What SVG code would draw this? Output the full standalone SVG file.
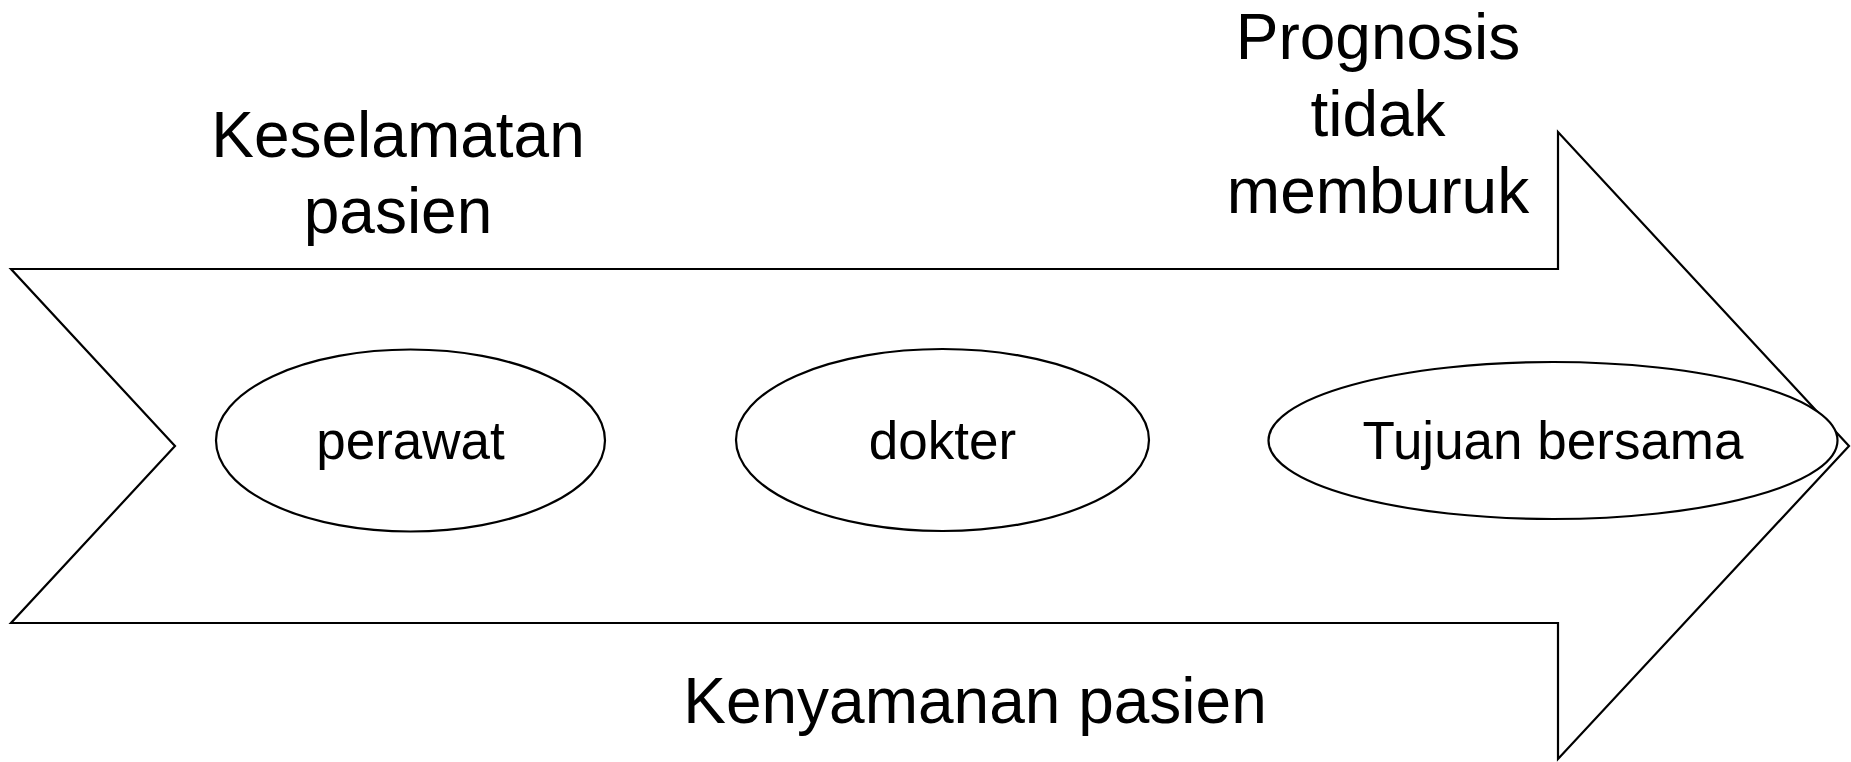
<svg xmlns="http://www.w3.org/2000/svg" width="1851" height="762" viewBox="0 0 1851 762">
<style>
.shape{fill:#fff;stroke:#000;stroke-width:2.2}
.lbl{font-family:"Liberation Sans",Arial,sans-serif;fill:#000;text-anchor:middle}
.big{font-size:64px}
.node{font-size:53px}
</style>
<rect width="1851" height="762" fill="#fff"/>
<g id="arrow">
<path class="shape" d="M11,269 L1558,269 L1558,132 L1849,446 L1558,759 L1558,623 L11,623 L175,446 Z"/>
</g>
<g id="connectors"></g>
<g id="perawat">
<ellipse class="shape" cx="410.5" cy="440.5" rx="194.5" ry="91"/>
<text class="lbl node" x="410.5" y="459">perawat</text>
</g>
<g id="dokter">
<ellipse class="shape" cx="942.5" cy="440" rx="206.5" ry="91"/>
<text class="lbl node" x="942.5" y="459">dokter</text>
</g>
<g id="tujuan">
<ellipse class="shape" cx="1553" cy="440.5" rx="284.5" ry="78.5"/>
<text class="lbl node" x="1553" y="459">Tujuan bersama</text>
</g>
<g id="keselamatan">
<text class="lbl big" x="398" y="157">Keselamatan</text>
<text class="lbl big" x="398" y="232.5">pasien</text>
</g>
<g id="prognosis">
<text class="lbl big" x="1378" y="59">Prognosis</text>
<text class="lbl big" x="1378" y="136">tidak</text>
<text class="lbl big" x="1378" y="212.5">memburuk</text>
</g>
<g id="kenyamanan">
<text class="lbl big" x="975" y="722.5">Kenyamanan pasien</text>
</g>
</svg>
